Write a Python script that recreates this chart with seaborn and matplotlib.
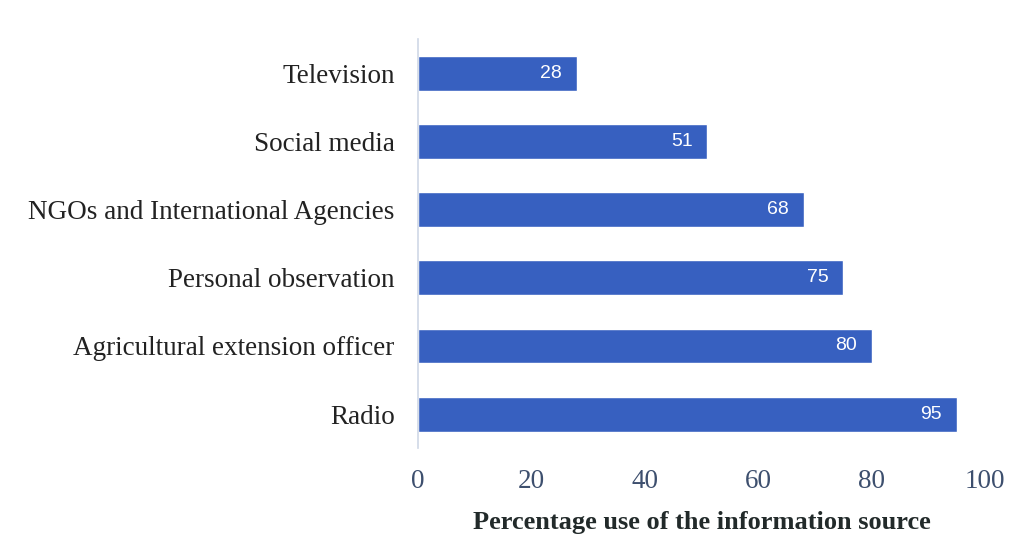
import matplotlib
matplotlib.use("Agg")
import matplotlib.pyplot as plt
import seaborn as sns
import pandas as pd

categories = ["Television", "Social media", "NGOs and International Agencies",
              "Personal observation", "Agricultural extension officer", "Radio"]
values = [28, 51, 68, 75, 80, 95]
xticks = [0, 20, 40, 60, 80, 100]
xlabel = "Percentage use of the information source"

df = pd.DataFrame({"source": categories, "pct": values})

sns.set_theme(style="white")
plt.rcParams["font.family"] = ["Liberation Serif", "DejaVu Serif"]

fig = plt.figure(figsize=(10.25, 5.52), dpi=100)
ax = fig.add_axes([0.408, 0.188, 0.553, 0.741])
sns.barplot(data=df, x="pct", y="source", order=categories, color="#3760c0",
            saturation=1, width=0.51, ax=ax)

for p, v in zip(ax.patches, values):
    ax.text(p.get_width() - 2.6, p.get_y() + p.get_height() / 2, str(v),
            ha="right", va="center", color="white", fontsize=14,
            family=["Liberation Sans", "DejaVu Sans"])

ax.set_xlim(0, 100)
ax.set_xticks(xticks)
ax.set_xticklabels([str(t) for t in xticks], fontsize=19.5, color="#3d4f6e")
ax.tick_params(axis="x", length=0, pad=15)
ax.tick_params(axis="y", length=0, pad=17, labelsize=19.5, labelcolor="#222222")
ax.set_ylabel("")
ax.set_xlabel(xlabel, fontsize=19, fontweight="bold", color="#222a2a", labelpad=12)
for s in ["top", "right", "bottom"]:
    ax.spines[s].set_visible(False)
ax.spines["left"].set_color("#cfd8e6")
ax.spines["left"].set_linewidth(1.2)

fig.savefig("out.png", dpi=100, facecolor="white")
